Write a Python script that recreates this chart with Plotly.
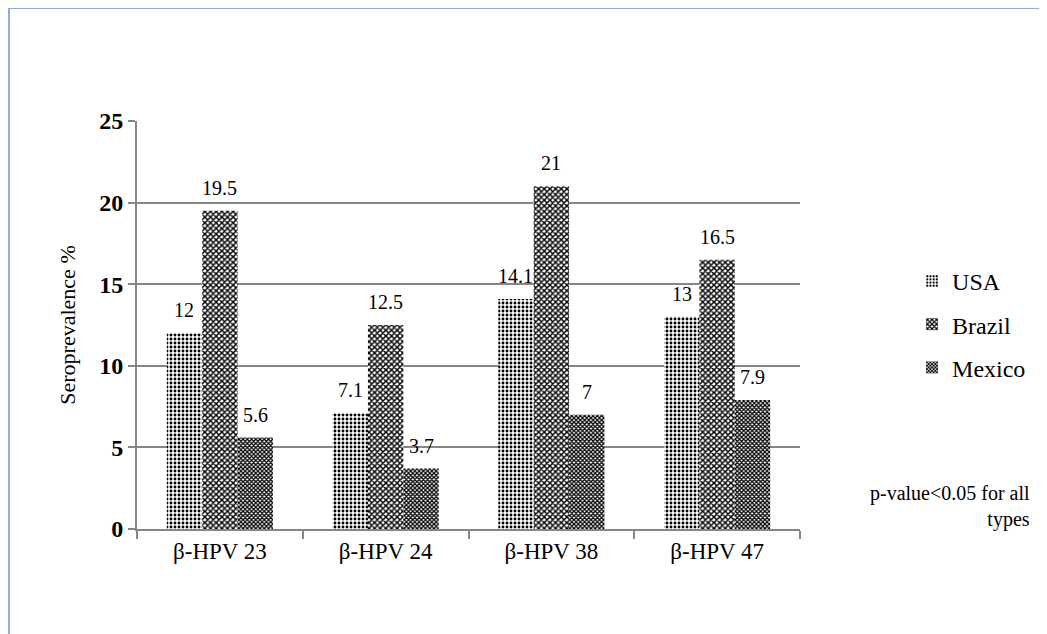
import plotly.graph_objects as go

categories = ["β-HPV 23", "β-HPV 24", "β-HPV 38", "β-HPV 47"]
usa = [12, 7.1, 14.1, 13]
brazil = [19.5, 12.5, 21, 16.5]
mexico = [5.6, 3.7, 7, 7.9]
y_ticks = [0, 5, 10, 15, 20, 25]
note_lines = ["p-value<0.05 for all", "types"]

FONT = "Liberation Serif"
GRAY = "#868686"
BAR_PX = 35.4

fig = go.Figure()
series = [
    ("USA", usa, dict(shape=".", size=4, solidity=0.4), -BAR_PX),
    ("Brazil", brazil, dict(shape="x", size=4, solidity=0.6), 0),
    ("Mexico", mexico, dict(shape="x", size=3, solidity=0.65), BAR_PX),
]
annotations = []
for name, vals, pat, shift in series:
    fig.add_trace(go.Bar(
        name=name, x=categories, y=vals, legendgroup=name,
        marker=dict(color="white", line=dict(width=0),
                    pattern=dict(fgcolor="black", bgcolor="white", fillmode="replace", **pat)),
    ))
    for c, v in zip(categories, vals):
        annotations.append(dict(x=c, y=v, xref="x", yref="y", text=f"{v:g}", showarrow=False,
                                xshift=shift, yshift=10, yanchor="bottom",
                                font=dict(family=FONT, size=20, color="black")))

annotations.append(dict(xref="paper", yref="paper", x=1.35, y=0.054, xanchor="right",
                        yanchor="middle", text="<br>".join(note_lines), showarrow=False,
                        align="right", font=dict(family=FONT, size=20, color="black")))

fig.update_layout(
    width=1039, height=626,
    paper_bgcolor="white", plot_bgcolor="white",
    margin=dict(l=129, r=247, t=113, b=105),
    barmode="group", bargap=0.36, bargroupgap=0,
    font=dict(family=FONT, color="black"),
    legend=dict(x=1.169, y=0.662, xanchor="left", yanchor="top",
                font=dict(family=FONT, size=24, color="black"), tracegroupgap=9,
                itemwidth=30, bgcolor="rgba(0,0,0,0)"),
    xaxis=dict(showline=True, linecolor=GRAY, linewidth=2, ticks="outside",
               tickson="boundaries", ticklen=8, tickcolor=GRAY, tickwidth=2,
               tickfont=dict(family=FONT, size=23, color="black")),
    yaxis=dict(range=[0, 25], tickvals=y_ticks, showline=True, linecolor=GRAY, linewidth=2,
               ticks="outside", ticklen=7, tickcolor=GRAY, tickwidth=2,
               showgrid=True, gridcolor=GRAY, gridwidth=1.6, zeroline=False,
               tickfont=dict(family=FONT, size=24, weight="bold", color="black"),
               title=dict(text="Seroprevalence %", font=dict(family=FONT, size=22, color="black"),
                          standoff=18)),
    shapes=[dict(type="rect", xref="paper", yref="paper",
                 x0=-0.193, x1=1.362, y0=-0.3, y1=1.277,
                 line=dict(color="#6b93d3", width=1.5), fillcolor="rgba(0,0,0,0)")],
    annotations=annotations,
)
fig.write_html("out.html")
